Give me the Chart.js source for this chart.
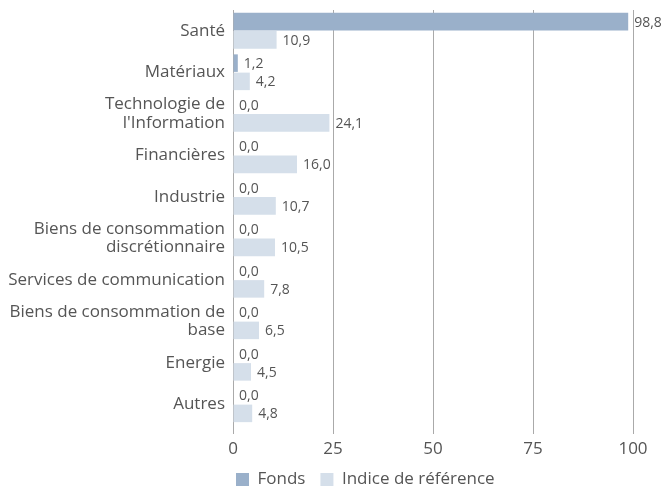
<!DOCTYPE html>
<html><head><meta charset="utf-8">
<script src="https://cdn.jsdelivr.net/npm/chart.js@4/dist/chart.umd.min.js"></script>
<style>html,body{margin:0;padding:0;background:#fff}#wrap{width:664px;height:491px}</style>
</head><body><div id="wrap"><canvas id="c"></canvas></div>
<script>
const categories = [["Santé"],["Matériaux"],["Technologie de","l'Information"],["Financières"],["Industrie"],["Biens de consommation","discrétionnaire"],["Services de communication"],["Biens de consommation de","base"],["Energie"],["Autres"]];
const fonds = [98.8,1.2,0.0,0.0,0.0,0.0,0.0,0.0,0.0,0.0];
const indice = [10.9,4.2,24.1,16.0,10.7,10.5,7.8,6.5,4.5,4.8];
const xTicks = [0,25,50,75,100];
const FONT = "'Open Sans', sans-serif";

const labelPlugin = {
  id:'vals',
  afterLayout(chart){
    // shift legend so its first box sits just right of the value axis
    const lg = chart.legend;
    if (lg) { lg.left -= 12; lg.right -= 12; }
  },
  afterDatasetsDraw(chart){
    const ctx = chart.ctx;
    ctx.save();
    ctx.font = "14px " + FONT;
    ctx.fillStyle = "#555";
    ctx.textBaseline = "middle";
    ctx.textAlign = "left";
    chart.data.datasets.forEach((ds,i)=>{
      const meta = chart.getDatasetMeta(i);
      meta.data.forEach((el,j)=>{
        const v = ds.data[j];
        ctx.fillText(v.toFixed(1).replace('.',','), el.x + 6, el.y + 1);
      });
    });
    ctx.restore();
  }
};

new Chart(document.getElementById('c'), {
  type:'bar',
  data:{
    labels: categories,
    datasets:[
      {label:'Fonds', data:fonds, backgroundColor:'#9AB0CA', barPercentage:0.96, categoryPercentage:0.88},
      {label:'Indice de référence', data:indice, backgroundColor:'#D5DFEA', barPercentage:0.96, categoryPercentage:0.88}
    ]
  },
  options:{
    indexAxis:'y',
    responsive:true, maintainAspectRatio:false, animation:false,
    layout:{padding:{top:10,right:31,left:0,bottom:-7}},
    scales:{
      x:{min:0,max:100,
        afterBuildTicks(ax){ ax.ticks = xTicks.map(v=>({value:v})); },
        afterFit(s){ s.height = 31; s.paddingLeft = 0; s.paddingRight = 0; },
        grid:{color:'#aaaaaa', lineWidth:1, tickLength:9, drawTicks:true},
        border:{display:false},
        ticks:{color:'#555', font:{family:FONT,size:17}, padding:5}
      },
      y:{
        afterFit(s){ s.width = 233; s.paddingTop = 0; s.paddingBottom = 0; },
        grid:{display:false, drawTicks:false},
        border:{display:true,color:'#aaaaaa'},
        ticks:{color:'#555', autoSkip:false, font:{family:FONT,size:17, lineHeight:1.08}, padding:8}
      }
    },
    plugins:{
      legend:{position:'bottom', align:'start', fullSize:false,
        labels:{color:'#555', font:{family:FONT,size:17}, boxWidth:13, boxHeight:13, padding:15}},
      tooltip:{enabled:false}
    }
  },
  plugins:[labelPlugin]
});
</script></body></html>
